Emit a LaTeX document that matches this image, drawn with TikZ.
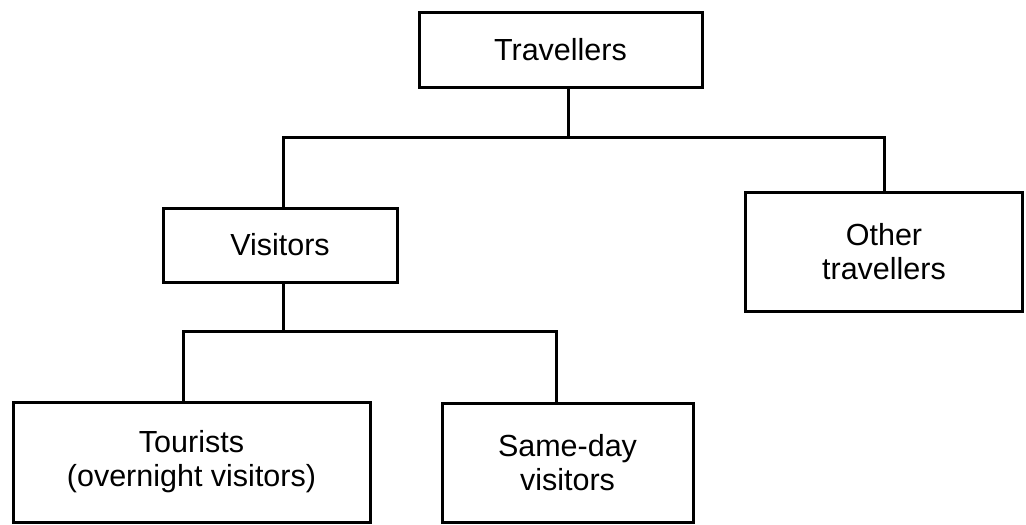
\documentclass[tikz,border=0pt]{standalone}
\usepackage{fontspec}
\setmainfont{Liberation Sans}
\begin{document}
\begin{tikzpicture}[x=1pt,y=-1pt,line width=3pt,
  every node/.style={draw,rectangle,align=center,inner sep=0pt,
    font=\fontsize{30.5}{34}\selectfont}]

  \useasboundingbox (0,0) rectangle (1026,525);

  \node[minimum width=283pt,minimum height=75pt] (trav) at (560.5,49.5) {Travellers};
  \node[minimum width=234pt,minimum height=74pt] (vis) at (280,245) {Visitors};
  \node[minimum width=277pt,minimum height=119pt] (other) at (884,251.5) {Other\\travellers};
  \node[minimum width=357pt,minimum height=120pt] (tour) at (191.5,462) {Tourists\\(overnight visitors)};
  \node[minimum width=251pt,minimum height=119pt] (same) at (567.5,462.5) {Same-day\\visitors};

  \coordinate (top) at (568,137);
  \coordinate (mid) at (283,331);
  \coordinate (tl) at (183,331);
  \coordinate (sr) at (556,331);

  \draw (trav.south -| top) -- (top);
  \draw (vis.north -| mid) -- (mid |- top) -- (top -| other.north) -- (other.north);

  \draw (vis.south -| mid) -- (mid);
  \draw (tour.north -| tl) -- (tl) -- (sr) -- (same.north -| sr);

\end{tikzpicture}
\end{document}
